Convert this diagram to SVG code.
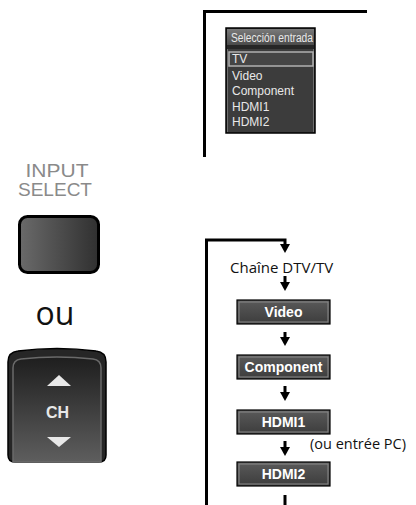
<svg xmlns="http://www.w3.org/2000/svg" width="416" height="505" viewBox="0 0 416 505">
<style>
.menu{font-family:"Liberation Sans",Arial,sans-serif;font-size:12px;fill:#e8e8e8}
.lbl{font-family:"Liberation Sans",Arial,sans-serif;font-size:14px;font-weight:bold;fill:#fff;text-anchor:middle}
.txt{font-family:"Open Sans","DejaVu Sans",sans-serif;fill:#111}
.conn{fill:none;stroke:#000;stroke-width:3}
.box{fill:url(#boxg);stroke:#000;stroke-width:1.2}
.boxin{fill:none;stroke:#8a8a8a;stroke-width:1}
</style>
<defs>
<linearGradient id="btng" x1="0" y1="0" x2="1" y2="0"><stop offset="0" stop-color="#6a6a6a"/><stop offset="1" stop-color="#303030"/></linearGradient>
<linearGradient id="remg" x1="0" y1="0" x2="0" y2="1"><stop offset="0" stop-color="#1e1e1e"/><stop offset="1" stop-color="#5e5e5e"/></linearGradient>
<linearGradient id="boxg" x1="0" y1="0" x2="0" y2="1"><stop offset="0" stop-color="#5a5a5a"/><stop offset="1" stop-color="#3c3c3c"/></linearGradient>
<linearGradient id="hdrg" x1="0" y1="0" x2="0" y2="1"><stop offset="0" stop-color="#7a7a7a"/><stop offset="1" stop-color="#4a4a4a"/></linearGradient>
<marker id="ah" markerUnits="userSpaceOnUse" markerWidth="10" markerHeight="9" refX="5" refY="1" orient="0" viewBox="0 0 10 9">
<path d="M0,0 L10,0 L5,9 Z" fill="#000"/>
</marker>
</defs>

<g id="connectors">
<path class="conn" d="M367,11.5 H204.5 V157"/>
<path class="conn" d="M206.5,505 V240 H285 V245" marker-end="url(#ah)"/>
<path class="conn" d="M285,276 V283" marker-end="url(#ah)"/>
<path class="conn" d="M285,332 V338" marker-end="url(#ah)"/>
<path class="conn" d="M285,386 V393" marker-end="url(#ah)"/>
<path class="conn" d="M285,441 V448" marker-end="url(#ah)"/>
<path class="conn" d="M285,495 V505"/>
</g>

<g id="menu">
<rect x="226" y="28" width="89" height="105" fill="#3c3c3c" stroke="#000" stroke-width="1.5"/>
<rect x="227" y="29" width="87" height="16" fill="url(#hdrg)"/>
<line x1="227.5" y1="46" x2="227.5" y2="132" stroke="#6e6e6e" stroke-width="1"/>
<line x1="313.5" y1="46" x2="313.5" y2="132" stroke="#6e6e6e" stroke-width="1"/>
<rect x="227" y="45" width="87" height="4" fill="#262626"/>
<text class="menu" x="231" y="42" textLength="82" lengthAdjust="spacingAndGlyphs">Selección entrada</text>
<rect x="229" y="52" width="84" height="14" fill="#454545" stroke="#b0b0b0" stroke-width="1.5"/>
<text class="menu" x="232" y="63">TV</text>
<text class="menu" x="232" y="80">Video</text>
<text class="menu" x="232" y="95">Component</text>
<text class="menu" x="232" y="111">HDMI1</text>
<text class="menu" x="232" y="126">HDMI2</text>
</g>

<g id="input-select">
<text x="57" y="177" text-anchor="middle" font-family="Liberation Sans,Arial,sans-serif" font-size="18" fill="#8a8a8a" textLength="63" lengthAdjust="spacingAndGlyphs">INPUT</text>
<text x="55" y="196" text-anchor="middle" font-family="Liberation Sans,Arial,sans-serif" font-size="18" fill="#8a8a8a" textLength="74" lengthAdjust="spacingAndGlyphs">SELECT</text>
<rect x="19.5" y="216.5" width="79" height="56" rx="8" fill="url(#btng)" stroke="#000" stroke-width="3"/>
</g>

<g id="ou">
<text class="txt" x="55" y="325" text-anchor="middle" font-size="32">ou</text>
</g>

<g id="ch-remote">
<path d="M8,362 Q8,352 18,351 Q57,346 96,351 Q106,352 106,362 V455 Q106,462 99,462 H15 Q8,462 8,455 Z" fill="#262626" stroke="#000" stroke-width="1.5"/>
<path d="M13,368 Q13,360 21,359 Q57,355 93,359 Q101,360 101,368 V462 H13 Z" fill="url(#remg)" stroke="#6a6a6a" stroke-width="1.5"/>
<path d="M47,386 L59,375 L71,386 Z" fill="#e8e8e8"/>
<text x="57.5" y="418" text-anchor="middle" font-family="Liberation Sans,Arial,sans-serif" font-size="16" font-weight="bold" fill="#e8e8e8">CH</text>
<path d="M47,437 L71,437 L59,447 Z" fill="#e8e8e8"/>
</g>

<g id="chaine">
<text class="txt" x="230" y="273" font-size="15">Chaîne DTV/TV</text>
</g>

<g id="video">
<rect class="box" x="237" y="300" width="93" height="24"/>
<rect class="boxin" x="239" y="302" width="89" height="20"/>
<text class="lbl" x="283.5" y="317">Video</text>
</g>

<g id="component">
<rect class="box" x="237" y="355" width="93" height="24"/>
<rect class="boxin" x="239" y="357" width="89" height="20"/>
<text class="lbl" x="283.5" y="372">Component</text>
</g>

<g id="hdmi1">
<rect class="box" x="237" y="410" width="93" height="24"/>
<rect class="boxin" x="239" y="412" width="89" height="20"/>
<text class="lbl" x="283.5" y="427">HDMI1</text>
</g>

<g id="pc-note">
<text class="txt" x="310" y="449" font-size="14.5">(ou entrée PC)</text>
</g>

<g id="hdmi2">
<rect class="box" x="237" y="462" width="93" height="24"/>
<rect class="boxin" x="239" y="464" width="89" height="20"/>
<text class="lbl" x="283.5" y="479">HDMI2</text>
</g>
</svg>
